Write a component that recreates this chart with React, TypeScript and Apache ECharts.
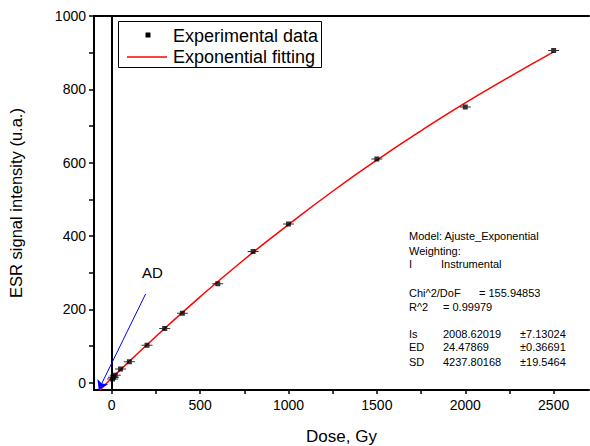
import React, { useEffect, useRef } from "react";
import * as echarts from "echarts";

const doses = [5, 10, 20, 50, 100, 200, 300, 400, 600, 800, 1000, 1500, 2000, 2500];
const signals = [10, 15, 20, 37, 57, 102, 148, 189, 270, 358, 433, 610, 752, 906];

const fitDoses = [-68, 0, 250, 500, 750, 1000, 1250, 1500, 1750, 2000, 2250, 2500];
const fitSignals = [-21, 12, 126, 234, 336, 431, 522, 607, 687, 763, 834, 902];

const xTickValues = [0, 250, 500, 750, 1000, 1250, 1500, 1750, 2000, 2250, 2500];
const xLabelValues = [0, 500, 1000, 1500, 2000, 2500];
const yTickValues = [0, 100, 200, 300, 400, 500, 600, 700, 800, 900, 1000];
const yLabelValues = [0, 200, 400, 600, 800, 1000];

const arrowFrom = [192, 242];
const arrowTo = [-73, -19];

const legendNames = ["Experimental data", "Exponential fitting"];

const FONT = "'Liberation Sans', Arial, Helvetica, sans-serif";

export default function App() {
  const ref = useRef<HTMLDivElement>(null);
  useEffect(() => {
    if (!ref.current) return;
    const chart = echarts.init(ref.current, undefined, { renderer: "svg" });
    const txt = (x: number, y: number, text: string, size = 11) => ({
      type: "text",
      x,
      y,
      style: { text, fill: "#000", font: `${size}px ${FONT}`, textVerticalAlign: "middle" },
    });
    chart.setOption({
      animation: false,
      textStyle: { fontFamily: FONT },
      grid: { left: 94, top: 16, width: 495, height: 374, containLabel: false, outerBoundsMode: "none" },
      xAxis: [
        {
          type: "value",
          min: -100,
          max: 2700,
          name: "Dose, Gy",
          nameLocation: "middle",
          nameGap: 38,
          nameTextStyle: { fontSize: 17, color: "#000" },
          axisLine: { show: true, onZero: false, lineStyle: { color: "#000", width: 2 } },
          axisTick: { show: true, length: 4, customValues: xTickValues, lineStyle: { color: "#000", width: 1.5 } },
          axisLabel: {
            customValues: xLabelValues,
            fontSize: 14,
            color: "#000",
            margin: 8,
            formatter: (v: number) => String(v),
          },
          splitLine: { show: false },
        },
        {
          type: "value",
          position: "top",
          min: -100,
          max: 2700,
          axisLine: { show: true, onZero: false, lineStyle: { color: "#000", width: 2 } },
          axisTick: { show: false },
          axisLabel: { show: false },
          splitLine: { show: false },
        },
      ],
      yAxis: {
        type: "value",
        min: -20,
        max: 1000,
        name: "ESR signal intensity (u.a.)",
        nameLocation: "middle",
        nameGap: 70,
        nameTextStyle: { fontSize: 16.5, color: "#000" },
        axisLine: { show: true, onZero: false, lineStyle: { color: "#000", width: 2 } },
        axisTick: { show: true, length: 5, customValues: yTickValues, lineStyle: { color: "#000", width: 1.5 } },
        axisLabel: {
          customValues: yLabelValues,
          fontSize: 14,
          color: "#000",
          margin: 8,
          formatter: (v: number) => String(v),
        },
        splitLine: { show: false },
      },
      series: [
        {
          name: legendNames[1],
          type: "line",
          smooth: true,
          symbol: "none",
          data: fitDoses.map((d, i) => [d, fitSignals[i]]),
          lineStyle: { color: "#ff0000", width: 1.5 },
          z: 3,
          markLine: {
            silent: true,
            symbol: ["none", "none"],
            label: { show: false },
            lineStyle: { color: "#000", width: 2, type: "solid" },
            data: [{ xAxis: 0 }],
          },
        },
        {
          name: legendNames[0],
          type: "scatter",
          symbol: "path://M0,2H3V0H8V2H11V3H8V5H3V3H0Z",
          symbolSize: [11, 5],
          itemStyle: { color: "#000" },
          data: doses.map((d, i) => [d, signals[i]]),
          z: 4,
          markLine: {
            silent: true,
            symbol: ["none", "arrow"],
            symbolSize: 9,
            label: { show: false },
            lineStyle: { color: "#0000ff", width: 1, type: "solid" },
            data: [[{ coord: arrowFrom }, { coord: arrowTo }]],
          },
        },
      ],
      graphic: [
        {
          type: "rect",
          shape: { x: 118.5, y: 21.5, width: 203, height: 46 },
          style: { fill: "#fff", stroke: "#000", lineWidth: 1 },
          z: 100,
        },
        {
          type: "rect",
          shape: { x: 145.5, y: 32.5, width: 5, height: 5 },
          style: { fill: "#000" },
          z: 101,
        },
        {
          type: "line",
          shape: { x1: 127, y1: 57, x2: 167, y2: 57 },
          style: { stroke: "#ff0000", lineWidth: 1.5 },
          z: 101,
        },
        { ...txt(173, 36, legendNames[0], 18), z: 101 },
        { ...txt(173, 57, legendNames[1], 18), z: 101 },
        txt(142, 272, "AD", 15),
        txt(409, 236, "Model: Ajuste_Exponential"),
        txt(409, 251, "Weighting:"),
        txt(409, 264, "I"),
        txt(441, 264, "Instrumental"),
        txt(409, 293, "Chi^2/DoF"),
        txt(479, 293, "= 155.94853"),
        txt(409, 307, "R^2"),
        txt(443, 307, "= 0.99979"),
        txt(409, 334, "Is"),
        txt(443, 334, "2008.62019"),
        txt(520, 334, "±7.13024"),
        txt(409, 347, "ED"),
        txt(443, 347, "24.47869"),
        txt(520, 347, "±0.36691"),
        txt(409, 362, "SD"),
        txt(443, 362, "4237.80168"),
        txt(520, 362, "±19.5464"),
      ],
    });
    return () => chart.dispose();
  }, []);
  return <div ref={ref} style={{ width: 590, height: 446, position: "absolute", left: 0, top: 0 }} />;
}
